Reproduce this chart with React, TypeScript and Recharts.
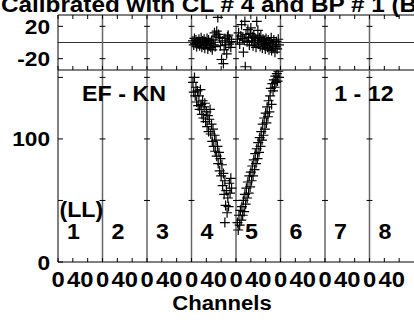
import React from "react";
import {
  ScatterChart,
  Scatter,
  XAxis,
  YAxis,
  ReferenceLine,
  ReferenceDot,
} from "recharts";

const FONT = "'Liberation Sans', Arial, Helvetica, sans-serif";

// 8 detector segments laid end to end on one channel axis
const SEG = 120;
const segmentNames = ["1", "2", "3", "4", "5", "6", "7", "8"];
const X_MAX = SEG * segmentNames.length;

// per-segment tick labels (offset inside a segment -> text)
const xLabelOffsets = [0, 60];
const xLabels = ["0", "40"];

const residTicks = [-20, 20];
const mainTicks = [0, 50, 100, 150];
const mainTickLabels = ["0", "", "100", ""];

// falling arm (segment 4)
const leftCh = [
  364, 366, 368, 370, 372, 374, 376, 378, 380, 382, 384, 386, 388, 390, 392,
  394, 396, 398, 400, 402, 404, 406, 408, 410, 412, 414, 416, 418, 420, 422,
  424, 426, 428, 430, 432, 434, 436, 438, 440, 442, 444, 446, 448, 450, 450,
  452, 454, 456, 458, 460, 462, 464, 466, 468,
];
const leftVal = [
  146, 138, 150, 135, 142, 130, 139, 127, 135, 124, 140, 128, 120, 131, 117,
  126, 129, 114, 122, 110, 119, 106, 116, 124, 104, 112, 98, 108, 94, 103, 90,
  99, 86, 94, 80, 89, 74, 84, 70, 79, 62, 72, 55, 66, 32, 46, 58, 40, 52, 45,
  64, 56, 68, 60,
];

// rising arm (segment 5)
const rightCh = [
  484, 486, 488, 490, 492, 494, 496, 498, 500, 502, 504, 506, 508, 510, 512,
  514, 516, 518, 520, 522, 524, 526, 528, 530, 532, 534, 536, 538, 540, 542,
  544, 546, 548, 550, 552, 554, 556, 558, 560, 562, 564, 566, 568, 570, 572,
  574, 576, 578, 580, 582, 584, 586, 588, 590, 592, 594, 596,
];
const rightVal = [
  32, 26, 38, 30, 42, 34, 45, 38, 50, 41, 55, 47, 60, 52, 65, 56, 70, 61, 73,
  66, 78, 70, 83, 75, 88, 80, 92, 84, 97, 89, 101, 94, 106, 99, 112, 103, 117,
  108, 121, 113, 126, 118, 131, 122, 135, 141, 128, 145, 139, 148, 142, 151,
  146, 153, 147, 155, 150,
];

// residuals (top panel)
const residLeftCh = [
  364, 366, 368, 370, 372, 374, 376, 378, 380, 382, 384, 386, 388, 390, 392,
  394, 396, 398, 400, 402, 404, 406, 408, 410, 412, 414, 416, 418, 420, 422,
  424, 426, 428, 431, 433, 436, 438, 441, 443, 446, 448, 450, 452, 455, 457,
  459, 461, 463, 466, 468,
];
const residLeftVal = [
  2, -3, 5, -1, 3, -5, 1, -2, 4, -4, 0, 6, -6, 2, -3, 4, -7, 1, -2, 5, -8, 3,
  -4, -1, -6, 2, -9, 4, -3, 12, -5, 8, 14, 31, 10, 6, -4, -21, 2, -26, -9, 5,
  -3, -14, 7, 9, -2, 4, -6, 1,
];
const residRightCh = [
  484, 487, 490, 493, 495, 497, 500, 502, 504, 505, 507, 510, 512, 514, 516,
  518, 520, 522, 524, 526, 528, 530, 532, 534, 536, 538, 539, 541, 543, 545,
  547, 549, 551, 553, 555, 557, 559, 561, 563, 565, 567, 569, 571, 573, 575,
  576, 578, 580, 582, 585, 587, 589, 591, 594, 596,
];
const residRightVal = [
  4, 12, -2, 8, 22, 5, -12, 3, 26, -30, 10, 1, 16, 6, -3, 11, 18, 2, 7, -4, 9,
  0, 5, -6, 26, 3, 15, -2, 6, -5, 8, 1, -7, 4, -3, 2, -8, 5, -1, -6, 3, -9, 0,
  -4, 6, -10, -2, -7, 3, -12, -5, 1, -8, 4, -3,
];

const zip = (xs: number[], ys: number[]) => xs.map((x, i) => ({ x, y: ys[i] }));
const mainData = [...zip(leftCh, leftVal), ...zip(rightCh, rightVal)];
const residData = [...zip(residLeftCh, residLeftVal), ...zip(residRightCh, residRightVal)];

const boundaries = segmentNames.slice(1).map((_, i) => (i + 1) * SEG);
const minorTicks = Array.from({ length: X_MAX / 40 }, (_, i) => i * 40);
const xTicks = Array.from({ length: X_MAX / 20 }, (_, i) => i * 20);

function BoldText({ x, y, anchor = "start", size = 20, dy, children }: any) {
  return (
    <text
      transform={`translate(${x} ${y}) scale(1.08 1)`}
      textAnchor={anchor}
      dy={dy}
      fontSize={size}
      fontWeight="bold"
      fontFamily={FONT}
      fill="#000"
    >
      {children}
    </text>
  );
}

const Plus = (p: any) => (
  <path
    d={`M${p.cx - 5},${p.cy}h10M${p.cx},${p.cy - 5}v10`}
    stroke="#000"
    strokeWidth={1.2}
    fill="none"
  />
);

const XTick = ({ x, y, payload }: any) => {
  const v = payload.value as number;
  const r = v % SEG;
  const li = xLabelOffsets.indexOf(r);
  return (
    <g>
      {r % 40 === 0 && <line x1={x} x2={x} y1={y} y2={y - 4} stroke="#000" />}
      {li >= 0 && (
        <BoldText x={x} y={y + 25} anchor="middle" size={22}>
          {xLabels[li]}
        </BoldText>
      )}
    </g>
  );
};

const makeYTick = (labels: (v: number) => string) => ({ x, y, payload }: any) => (
  <g>
    <line x1={x + 8} x2={x + 13} y1={y} y2={y} stroke="#000" />
    <BoldText x={x} y={y} dy="0.36em" anchor="end" size={21}>
      {labels(payload.value)}
    </BoldText>
  </g>
);

const ResidTick = makeYTick((v) => String(v));
const MainTick = makeYTick((v) => mainTickLabels[mainTicks.indexOf(v)] ?? "");

const crossTicks = (ticks: number[], half: number) =>
  boundaries.flatMap((b) =>
    ticks.map((t) => (
      <ReferenceLine
        key={`c${b}-${t}`}
        segment={[
          { x: b - half, y: t },
          { x: b + half, y: t },
        ]}
        stroke="#000"
      />
    ))
  );

const textLabel = (text: string) => (p: any) => (
  <BoldText x={p.cx} y={p.cy} dy="0.36em" anchor="middle" size={21.5}>
    {text}
  </BoldText>
);

export default function App() {
  return (
    <div
      style={{
        position: "absolute",
        left: 0,
        top: 0,
        width: 414,
        height: 320,
        overflow: "hidden",
        background: "#fff",
      }}
    >
      {/* residual panel */}
      <div style={{ position: "absolute", left: 0, top: 0 }}>
        <ScatterChart width={414} height={71} margin={{ top: 15, right: 0, bottom: 1, left: 0 }}>
          <XAxis type="number" dataKey="x" domain={[0, X_MAX]} hide allowDataOverflow />
          <YAxis
            type="number"
            dataKey="y"
            domain={[-34, 34]}
            ticks={residTicks}
            interval={0}
            width={58}
            tickSize={0}
            tickMargin={8}
            tickLine={false}
            axisLine={{ stroke: "#000" }}
            tick={ResidTick}
            allowDataOverflow
          />
          <ReferenceLine y={34} stroke="#000" />
          <ReferenceLine y={-34} stroke="#000" />
          <ReferenceLine y={0} stroke="#333" />
          {boundaries.map((b) => (
            <ReferenceLine key={b} x={b} stroke="#666" strokeWidth={1.5} />
          ))}
          {minorTicks.map((m) => (
            <ReferenceLine key={`t${m}`} segment={[{ x: m, y: 34 }, { x: m, y: 29 }]} stroke="#000" />
          ))}
          {minorTicks.map((m) => (
            <ReferenceLine key={`b${m}`} segment={[{ x: m, y: -34 }, { x: m, y: -29 }]} stroke="#000" />
          ))}
          {crossTicks(residTicks, 8)}
          <Scatter data={residData} shape={Plus} isAnimationActive={false} />
        </ScatterChart>
      </div>

      {/* main panel */}
      <div style={{ position: "absolute", left: 0, top: 60 }}>
        <ScatterChart width={414} height={260} margin={{ top: 10, right: 0, bottom: 0, left: 0 }}>
          <XAxis
            type="number"
            dataKey="x"
            domain={[0, X_MAX]}
            ticks={xTicks}
            interval={0}
            height={58}
            tickSize={0}
            tickMargin={0}
            tickLine={false}
            axisLine={{ stroke: "#000" }}
            tick={XTick}
            allowDataOverflow
          />
          <YAxis
            type="number"
            dataKey="y"
            domain={[0, 156]}
            ticks={mainTicks}
            interval={0}
            width={58}
            tickSize={0}
            tickMargin={8}
            tickLine={false}
            axisLine={{ stroke: "#000" }}
            tick={MainTick}
            allowDataOverflow
          />
          {boundaries.map((b) => (
            <ReferenceLine key={b} x={b} stroke="#666" strokeWidth={1.5} />
          ))}
          {crossTicks(mainTicks.slice(1), 8)}
          {segmentNames.map((s, i) => (
            <ReferenceDot key={s} x={i * SEG + 42} y={25} r={1} shape={textLabel(s)} />
          ))}
          <ReferenceDot x={63} y={43} r={1} shape={textLabel("(LL)")} />
          <ReferenceDot x={178} y={137} r={1} shape={textLabel("EF - KN")} />
          <ReferenceDot x={825} y={137} r={1} shape={textLabel("1 - 12")} />
          <Scatter data={mainData} shape={Plus} isAnimationActive={false} />
        </ScatterChart>
      </div>

      <svg
        width={414}
        height={320}
        style={{ position: "absolute", left: 0, top: 0, pointerEvents: "none" }}
      >
        <BoldText x={1} y={12} size={22.5}>
          Calibrated with CL # 4 and BP # 1 (BP)
        </BoldText>
        <BoldText x={222} y={310} anchor="middle" size={20.5}>
          Channels
        </BoldText>
      </svg>
    </div>
  );
}
